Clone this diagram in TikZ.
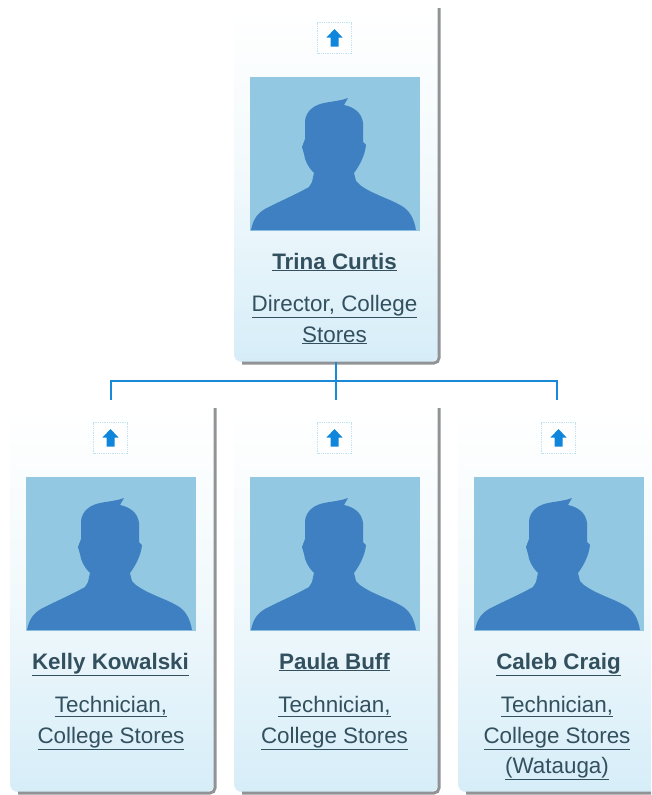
\documentclass[tikz,border=0pt]{standalone}
\usepackage{fontspec}
\setmainfont{Liberation Sans}
\usetikzlibrary{calc}
\definecolor{txt}{HTML}{33505F}
\definecolor{cardblue}{HTML}{D6EDF8}
\definecolor{cardmid}{HTML}{F1F9FC}
\definecolor{photobg}{HTML}{92C8E1}
\definecolor{sil}{HTML}{3F80C2}
\definecolor{wire}{HTML}{1A8AD8}
\definecolor{arrowc}{HTML}{0F86DC}
\definecolor{boxc}{HTML}{BFE3F5}
\definecolor{shade}{HTML}{77797C}
\tikzset{
  card/.style={anchor=north west,inner sep=0pt,outer sep=0pt,rounded corners=8pt,top color=white,bottom color=cardblue,middle color=cardmid,draw=none},
  edgeshade/.style={draw=shade,line width=3pt,rounded corners=5pt,opacity=.8},
  photo/.style={anchor=north west,fill=photobg,inner sep=0pt,outer sep=0pt,minimum width=170pt,minimum height=154pt},
  upbox/.style={draw=boxc,densely dotted,line width=.8pt,fill=white,minimum width=34pt,minimum height=31pt,inner sep=0pt},
  wireline/.style={draw=wire,line width=1.6pt},
  nametxt/.style={font=\fontsize{22.4}{24}\selectfont\bfseries,text=txt,inner sep=0pt,anchor=base},
  roletxt/.style={font=\fontsize{22.4}{24}\selectfont,text=txt,inner sep=0pt,anchor=base},
}
% #1 id, #2 card x, #3 card y, #4 card height, #5 name
\newcommand{\personcard}[5]{%
  \node[card,minimum width=204pt,minimum height=#4pt] (#1) at (#2,#3) {};
  \draw[edgeshade] ($(#1.north east)+(1,0)$) -- ($(#1.south east)+(1,1)$) -- ($(#1.south west)+(8,1)$);
  \node[upbox] (#1up) at ($(#1.north west)+(100.5,30)$) {};
  \fill[arrowc] ($(#1up)+(0,-9)$) -- ++(8,8.5) -- ++(-4,0) -- ++(0,9) -- ++(-8,0) -- ++(0,-9) -- ++(-4,0) -- cycle;
  \node[photo] (#1ph) at ($(#1.north west)+(16,69)$) {};
  \begin{scope}[shift={(#1ph.north west)}]
    \fill[sil] (1,153) .. controls (3,142) and (8,136) .. (15,132)
      .. controls (28,125) and (45,118) .. (59,110) -- (62,105) -- (64,96)
      .. controls (58,90) and (55,84) .. (54,77) -- (52,70) -- (55,62)
      -- (55,44) .. controls (56,34) and (64,28) .. (74,26)
      .. controls (84,24) and (90,24) .. (98,21)
      -- (94,28) .. controls (104,30) and (112,36) .. (113,46) -- (113,65) -- (116,68)
      .. controls (115,78) and (110,88) .. (104,96) -- (106,104) -- (110,108)
      .. controls (122,117) and (140,122) .. (150,128)
      .. controls (160,133) and (164,142) .. (166,153) -- cycle;
  \end{scope}
  \node[nametxt] (#1name) at ($(#1.north west)+(100.5,261)$) {\underline{#5}};
}
\begin{document}
\begin{tikzpicture}[x=1pt,y=-1pt]
\useasboundingbox (0,0) rectangle (651,795);
\clip (0,0) rectangle (651,795);
\fill[white] (0,0) rectangle (651,795);
\personcard{top}{234}{8}{354}{Trina Curtis}
\personcard{kelly}{10}{408}{384}{Kelly Kowalski}
\personcard{paula}{234}{408}{384}{Paula Buff}
\personcard{caleb}{458}{408}{384}{Caleb Craig}
\node[roletxt] (toprole1) at (334.5,311) {\underline{Director, College}};
\node[roletxt] (toprole2) at (334.5,342) {\underline{Stores}};
\node[roletxt] (kellyrole1) at (111,712) {\underline{Technician,}};
\node[roletxt] (kellyrole2) at (111,743) {\underline{College Stores}};
\node[roletxt] (paularole1) at (334.5,712) {\underline{Technician,}};
\node[roletxt] (paularole2) at (334.5,743) {\underline{College Stores}};
\node[roletxt] (calebrole1) at (557,712) {\underline{Technician,}};
\node[roletxt] (calebrole2) at (557,743) {\underline{College Stores}};
\node[roletxt] (calebrole3) at (557,773) {\underline{(Watauga)}};
\coordinate (hub) at (336,381);
\coordinate (kd) at (111,400);
\coordinate (pd) at (336,400);
\coordinate (cd) at (557,400);
\draw[wireline] (top.south -| hub) -- (pd);
\draw[wireline] (kd) |- (hub) -| (cd);
\end{tikzpicture}
\end{document}
